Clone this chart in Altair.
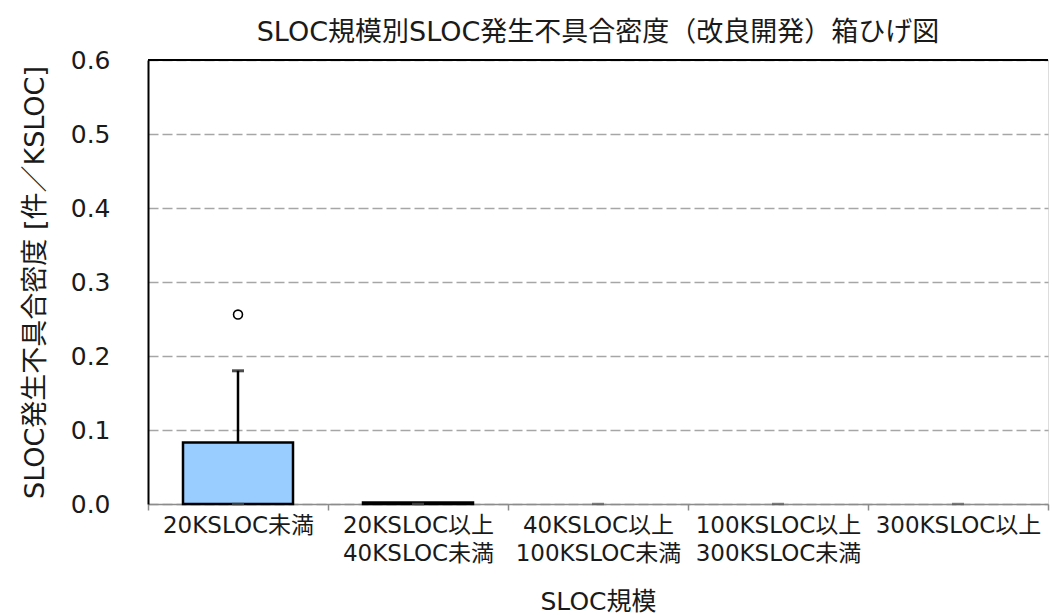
import altair as alt
import pandas as pd

# Box-plot statistics per SLOC size class (defects per KSLOC)
categories = [
    "20KSLOC未満",
    "20KSLOC以上\n40KSLOC未満",
    "40KSLOC以上\n100KSLOC未満",
    "100KSLOC以上\n300KSLOC未満",
    "300KSLOC以上",
]
lower_whisker = [0.0, 0.0, 0.0, 0.0, 0.0]
q1 = [0.0, 0.0, 0.0, 0.0, 0.0]
median = [0.0, 0.0, 0.0, 0.0, 0.0]
q3 = [0.083, 0.002, 0.0, 0.0, 0.0]
upper_whisker = [0.18, 0.002, 0.0, 0.0, 0.0]

outlier_category = ["20KSLOC未満"]
outlier_value = [0.256]

FONT = "DejaVu Sans, Noto Sans CJK JP"
TEXT_COLOR = "#1a1a1a"

stats = pd.DataFrame({
    "cat": categories,
    "lo": lower_whisker,
    "q1": q1,
    "med": median,
    "q3": q3,
    "hi": upper_whisker,
})
outliers = pd.DataFrame({"cat": outlier_category, "v": outlier_value})

x_enc = alt.X(
    "cat:N",
    sort=categories,
    title="SLOC規模",
    scale=alt.Scale(paddingInner=0, paddingOuter=0),
    axis=alt.Axis(
        labelAngle=0,
        labelExpr="split(datum.label, '\\n')",
        labelFontSize=23,
        labelLineHeight=28,
        labelPadding=4,
        labelColor=TEXT_COLOR,
        labelFont=FONT,
        titleFont=FONT,
        titleFontSize=25,
        titleFontWeight="normal",
        titleColor=TEXT_COLOR,
        titlePadding=24,
        domainColor="#8c8c8c",
        domainWidth=1.5,
        tickColor="#8c8c8c",
        tickSize=6,
        tickWidth=1.5,
        tickBand="extent",
        grid=False,
    ),
)

y_scale = alt.Scale(domain=[0, 0.6], nice=False, zero=True)
y_axis = alt.Axis(
    values=[0, 0.1, 0.2, 0.3, 0.4, 0.5, 0.6],
    format=".1f",
    labelFontSize=25,
    labelFont=FONT,
    labelColor=TEXT_COLOR,
    labelPadding=38,
    ticks=False,
    domainColor="#000000",
    domainWidth=2,
    grid=True,
    gridColor="#a6a6a6",
    gridDash=[10, 4],
    gridWidth=1.5,
    titleFont=FONT,
    titleFontSize=27,
    titleFontWeight="normal",
    titleColor=TEXT_COLOR,
    titlePadding=21,
)

base = alt.Chart(stats).encode(x=x_enc)

whisker_up = base.mark_rule(color="#000000", strokeWidth=2.5).encode(
    y=alt.Y("q3:Q", scale=y_scale, axis=y_axis, title="SLOC発生不具合密度 [件／KSLOC]"),
    y2="hi:Q",
).transform_filter("datum.hi > datum.q3")

whisker_down = base.mark_rule(color="#000000", strokeWidth=2.5).encode(
    y=alt.Y("lo:Q"),
    y2="q1:Q",
).transform_filter("datum.q1 > datum.lo")

cap = base.mark_tick(color="#000000", size=12, thickness=3).encode(
    y=alt.Y("hi:Q")
).transform_filter("datum.hi > datum.q3")

box = base.mark_bar(
    size=110, color="#99ccff", stroke="#000000", strokeWidth=2.5
).encode(
    y=alt.Y("q1:Q"),
    y2="q3:Q",
).transform_filter("datum.q3 > datum.q1")

med = base.mark_tick(color="#555555", size=12, thickness=2.5).encode(
    y=alt.Y("med:Q")
)

pts = alt.Chart(outliers).mark_point(
    shape="circle", size=80, filled=False, color="#000000", strokeWidth=1.6, opacity=1
).encode(
    x=alt.X("cat:N", sort=categories),
    y=alt.Y("v:Q"),
)

top_border = alt.Chart(stats).mark_rule(color="#000000", strokeWidth=2).encode(
    y=alt.datum(0.6)
)

chart = (
    alt.layer(whisker_up, whisker_down, cap, box, med, pts, top_border)
    .properties(
        width=900,
        height=444,
        autosize=alt.AutoSizeParams(type="none"),
        padding={"left": 148, "top": 60, "right": 4, "bottom": 111},
        title=alt.TitleParams(
            "SLOC規模別SLOC発生不具合密度（改良開発）箱ひげ図",
            font=FONT,
            fontSize=27,
            fontWeight="normal",
            color=TEXT_COLOR,
            anchor="middle",
            offset=1,
        ),
    )
    .configure_view(stroke=None)
    .configure(background="#ffffff")
)

chart.save("out.html", embed_options={"renderer": "svg", "actions": False})
